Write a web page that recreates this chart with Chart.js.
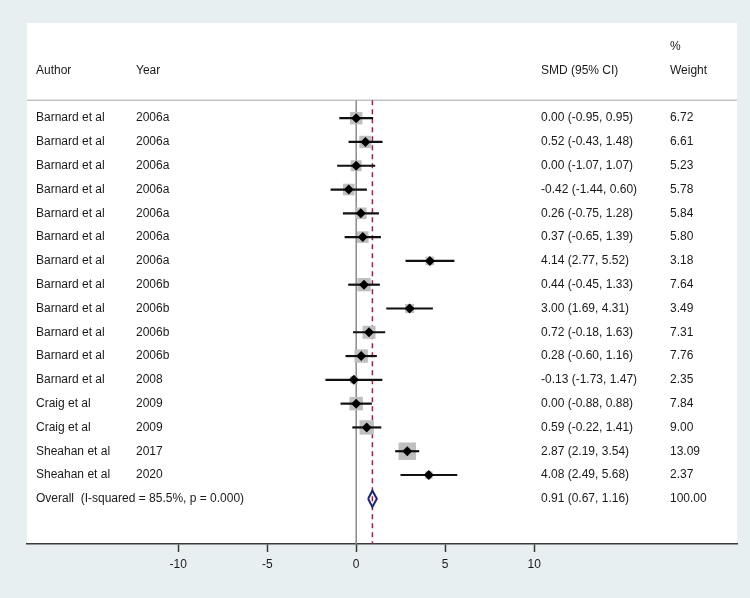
<!DOCTYPE html>
<html>
<head>
<meta charset="utf-8">
<script src="https://cdn.jsdelivr.net/npm/chart.js@4.4.1/dist/chart.umd.min.js"></script>
<style>
html, body { margin: 0; padding: 0; background: #e8eff1; }
#wrap { width: 750px; height: 598px; }
</style>
</head>
<body>
<div id="wrap"><canvas id="forest"></canvas></div>
<script>
var authors = ["Barnard et al", "Barnard et al", "Barnard et al", "Barnard et al", "Barnard et al", "Barnard et al",
  "Barnard et al", "Barnard et al", "Barnard et al", "Barnard et al", "Barnard et al", "Barnard et al",
  "Craig et al", "Craig et al", "Sheahan et al", "Sheahan et al"];
var years = ["2006a", "2006a", "2006a", "2006a", "2006a", "2006a", "2006a", "2006b", "2006b", "2006b", "2006b",
  "2008", "2009", "2009", "2017", "2020"];
var smd = [0.00, 0.52, 0.00, -0.42, 0.26, 0.37, 4.14, 0.44, 3.00, 0.72, 0.28, -0.13, 0.00, 0.59, 2.87, 4.08];
var lower = [-0.95, -0.43, -1.07, -1.44, -0.75, -0.65, 2.77, -0.45, 1.69, -0.18, -0.60, -1.73, -0.88, -0.22, 2.19, 2.49];
var upper = [0.95, 1.48, 1.07, 0.60, 1.28, 1.39, 5.52, 1.33, 4.31, 1.63, 1.16, 1.47, 0.88, 1.41, 3.54, 5.68];
var weights = [6.72, 6.61, 5.23, 5.78, 5.84, 5.80, 3.18, 7.64, 3.49, 7.31, 7.76, 2.35, 7.84, 9.00, 13.09, 2.37];

var overallLabel = "Overall  (I-squared = 85.5%, p = 0.000)";
var overallSmd = 0.91;
var overallLower = 0.67;
var overallUpper = 1.16;
var overallWeight = 100.00;

var xTicks = [-10, -5, 0, 5, 10];

// row positions: studies 1..16, overall 17
var overallRow = authors.length + 1;
var textFont = '12px "Liberation Sans", Arial, sans-serif';

var squarePts = [], diamondPts = [];
for (var i = 0; i < smd.length; i++) {
  squarePts.push({x: smd[i], y: i + 1});
  diamondPts.push({x: smd[i], y: i + 1});
}

var datasets = [];

// reference lines (behind everything)
datasets.push({
  data: [{x: 0, y: 0.25}, {x: 0, y: 18.9}],
  showLine: true, pointRadius: 0, borderColor: "#8a8a8a", borderWidth: 1.5, order: 10
});
datasets.push({
  data: [{x: overallSmd, y: 0.25}, {x: overallSmd, y: 18.9}],
  showLine: true, pointRadius: 0, borderColor: "#8e2a3e", borderWidth: 1.5, borderDash: [5, 4], order: 9
});

// weight squares
datasets.push({
  data: squarePts,
  pointStyle: "rect",
  pointRadius: weights.map(function(w){ return 3.4 * Math.sqrt(w); }),
  backgroundColor: "#bfbfbf",
  borderWidth: 0,
  order: 8
});

// CI lines
for (var j = 0; j < smd.length; j++) {
  datasets.push({
    data: [{x: lower[j], y: j + 1}, {x: upper[j], y: j + 1}],
    showLine: true, pointRadius: 0, borderColor: "#111", borderWidth: 2.2, order: 5
  });
}

// point estimates
datasets.push({
  data: diamondPts,
  pointStyle: "rectRot",
  pointRadius: 5,
  backgroundColor: "#000",
  borderWidth: 0,
  order: 1
});

// overall diamond
var dh = 0.34;
datasets.push({
  data: [
    {x: overallLower, y: overallRow}, {x: overallSmd, y: overallRow - dh},
    {x: overallUpper, y: overallRow}, {x: overallSmd, y: overallRow + dh},
    {x: overallLower, y: overallRow}
  ],
  showLine: true, pointRadius: 0, borderColor: "#1c2380", borderWidth: 2, tension: 0, order: 0
});

var panelPlugin = {
  id: "panel",
  beforeDraw: function(chart) {
    var a = chart.chartArea, ctx = chart.ctx;
    ctx.save();
    ctx.fillStyle = "#e8eff1";
    ctx.fillRect(0, 0, chart.width, chart.height);
    ctx.fillStyle = "#ffffff";
    ctx.fillRect(a.left, a.top, a.right - a.left, a.bottom - a.top);
    // header rule
    var yh = chart.scales.y.getPixelForValue(0.25);
    ctx.strokeStyle = "#c4c4c4";
    ctx.lineWidth = 1.5;
    ctx.beginPath();
    ctx.moveTo(a.left, yh);
    ctx.lineTo(a.right, yh);
    ctx.stroke();
    ctx.restore();
  },
  afterDraw: function(chart) {
    var ctx = chart.ctx, ys = chart.scales.y;
    var colAuthor = 36, colYear = 136, colSmd = 541, colWeight = 670;
    ctx.save();
    ctx.font = textFont;
    ctx.fillStyle = "#1a1a1a";
    ctx.textBaseline = "middle";
    ctx.textAlign = "left";
    var yHead = ys.getPixelForValue(-1);
    ctx.fillText("Author", colAuthor, yHead);
    ctx.fillText("Year", colYear, yHead);
    ctx.fillText("SMD (95% CI)", colSmd, yHead);
    ctx.fillText("%", colWeight, ys.getPixelForValue(-2));
    ctx.fillText("Weight", colWeight, yHead);
    for (var k = 0; k < authors.length; k++) {
      var yy = ys.getPixelForValue(k + 1);
      ctx.fillText(authors[k], colAuthor, yy);
      ctx.fillText(years[k], colYear, yy);
      ctx.fillText(smd[k].toFixed(2) + " (" + lower[k].toFixed(2) + ", " + upper[k].toFixed(2) + ")", colSmd, yy);
      ctx.fillText(weights[k].toFixed(2), colWeight, yy);
    }
    var yo = ys.getPixelForValue(overallRow);
    ctx.fillText(overallLabel, colAuthor, yo);
    ctx.fillText(overallSmd.toFixed(2) + " (" + overallLower.toFixed(2) + ", " + overallUpper.toFixed(2) + ")", colSmd, yo);
    ctx.fillText(overallWeight.toFixed(2), colWeight, yo);
    ctx.restore();
  }
};

new Chart(document.getElementById("forest"), {
  type: "scatter",
  data: {datasets: datasets},
  plugins: [panelPlugin],
  options: {
    responsive: true,
    maintainAspectRatio: false,
    animation: false,
    layout: {padding: {left: 27, top: 23, right: 13, bottom: 0}},
    plugins: {legend: {display: false}, tooltip: {enabled: false}},
    scales: {
      x: {
        type: "linear",
        min: -18.5,
        max: 21.4,
        afterBuildTicks: function(scale) {
          scale.ticks = xTicks.map(function(v){ return {value: v}; });
        },
        afterFit: function(scale) { scale.height = 54; },
        border: {display: true, color: "#3a3a3a", width: 1.5},
        grid: {drawOnChartArea: false, drawTicks: true, tickLength: 8, tickColor: "#3a3a3a", tickWidth: 1.5},
        ticks: {color: "#1a1a1a", padding: 5, font: {family: '"Liberation Sans", Arial, sans-serif', size: 12}}
      },
      y: {
        type: "linear",
        display: false,
        reverse: true,
        min: -3,
        max: 18.9
      }
    }
  }
});
</script>
</body>
</html>
